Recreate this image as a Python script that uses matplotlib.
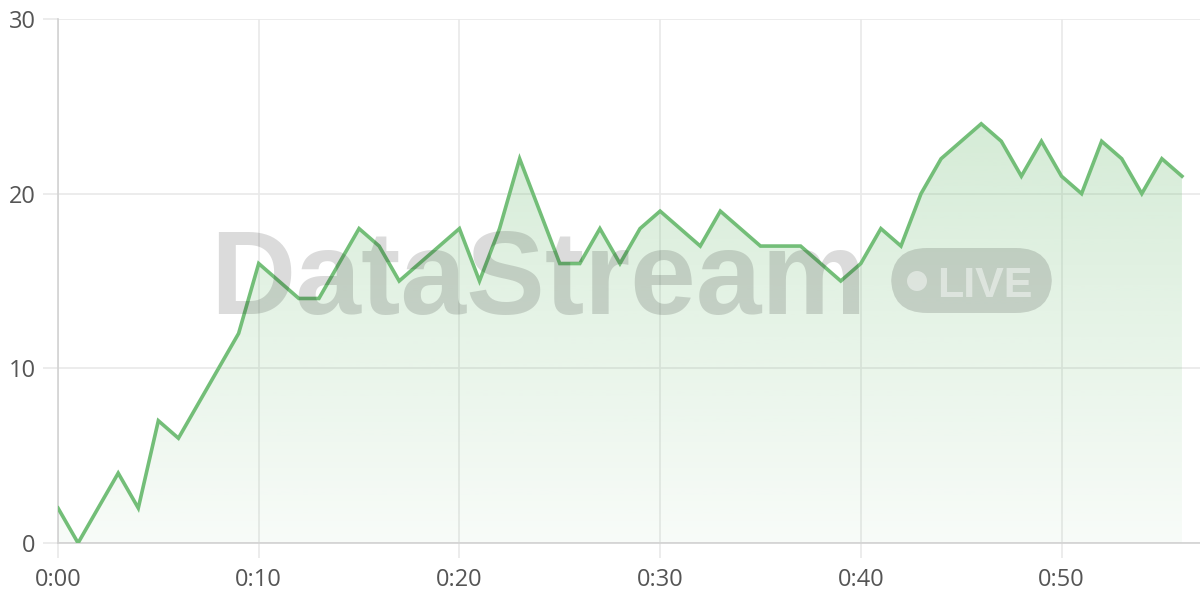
import numpy as np
import matplotlib
matplotlib.use("Agg")
import matplotlib.pyplot as plt
from matplotlib.patches import FancyBboxPatch, Circle

# values per minute, 0:00 .. 0:56
minutes = list(range(57))
values = [2, 0, 2, 4, 2, 7, 6, 8, 10, 12,
          16, 15, 14, 14, 16, 18, 17, 15, 16, 17,
          18, 15, 18, 22, 19, 16, 16, 18, 16, 18,
          19, 18, 17, 19, 18, 17, 17, 17, 16, 15,
          16, 18, 17, 20, 22, 23, 24, 23, 21, 23,
          21, 20, 23, 22, 20, 22, 21]
xticks = [0, 10, 20, 30, 40, 50]
xtick_labels = ["0:00", "0:10", "0:20", "0:30", "0:40", "0:50"]
yticks = [0, 10, 20, 30]

line_color = "#73be78"
grid_color = "#e9e9e9"
axis_color = "#d2d2d2"
text_color = "#555555"

plt.rcParams["font.family"] = ["Open Sans", "DejaVu Sans"]

fig = plt.figure(figsize=(12, 6), dpi=100)
ax = fig.add_axes([58 / 1200, 57 / 600, 1142 / 1200, 524 / 600])

x = np.array(minutes, dtype=float)
y = np.array(values, dtype=float)

# gradient fill under the line
fill = ax.fill_between(x, 0, y, color="none", lw=0)
ymax = max(values)
grad = np.linspace(0.05, 0.30, 256).reshape(-1, 1)
rgba = np.zeros((256, 1, 4))
rgba[..., 0] = 115 / 255
rgba[..., 1] = 190 / 255
rgba[..., 2] = 120 / 255
rgba[..., 3] = grad
img = ax.imshow(rgba, extent=[x[0], x[-1], 0, ymax], origin="lower",
                aspect="auto", zorder=1, interpolation="bilinear")
path = fill.get_paths()[0]
img.set_clip_path(path, transform=ax.transData)

ax.plot(x, y, color=line_color, lw=2.6, zorder=4, solid_joinstyle="miter")

ax.set_xlim(0, 56.9)
ax.set_ylim(0, 30)
ax.set_xticks(xticks)
ax.set_xticklabels(xtick_labels)
ax.set_yticks(yticks)
ax.grid(True, color=grid_color, lw=1.2, zorder=0)
ax.set_axisbelow(True)
for s in ["top", "right"]:
    ax.spines[s].set_visible(False)
for s in ["left", "bottom"]:
    ax.spines[s].set_color(axis_color)
    ax.spines[s].set_linewidth(1.2)
ax.tick_params(axis="both", length=11, width=1.2, color=grid_color,
               labelcolor=text_color, labelsize=17)
ax.tick_params(axis="y", pad=5)
ax.tick_params(axis="x", pad=7)

# watermark
fig.text(210 / 1200, 1 - 314 / 600, "DataStream", family="Liberation Sans",
         weight="bold", fontsize=85, color="black", alpha=0.14,
         ha="left", va="baseline", zorder=3)
box = FancyBboxPatch((891 / 1200, 1 - 313 / 600), 161 / 1200, 65 / 600,
                     boxstyle="round,pad=0,rounding_size=0.03",
                     transform=fig.transFigure, facecolor="black",
                     alpha=0.14, lw=0, zorder=3,
                     mutation_aspect=2)
fig.patches.append(box)
dot = Circle((917, 600 - 281), 10, transform=None, facecolor="white",
             alpha=0.45, lw=0, zorder=3)
fig.patches.append(dot)
fig.text(937 / 1200, 1 - 297 / 600, "LIVE", family="Liberation Sans",
         weight="bold", fontsize=31, color="white", alpha=0.45,
         ha="left", va="baseline", zorder=3)

fig.savefig("out.png", dpi=100)
